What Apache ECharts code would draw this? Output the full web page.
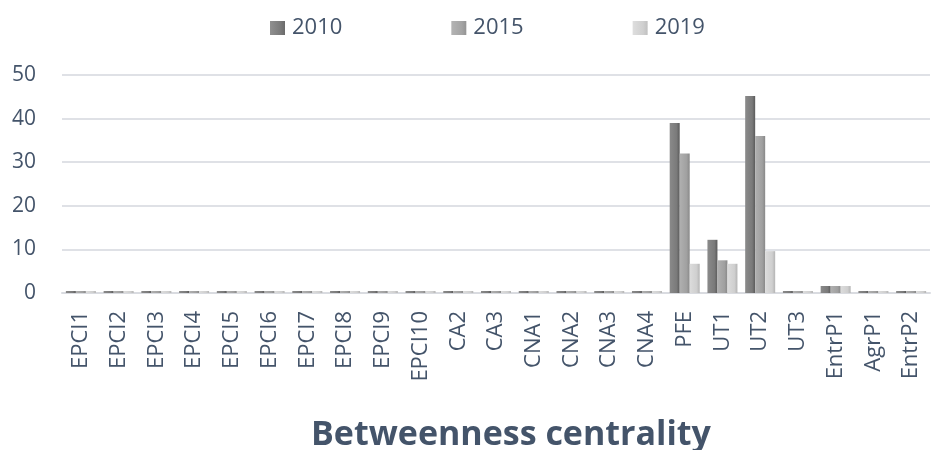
<!DOCTYPE html>
<html><head><meta charset="utf-8">
<script src="https://cdn.jsdelivr.net/npm/echarts@6/dist/echarts.min.js"></script>
<style>html,body{margin:0;padding:0;background:#fff}#c{width:933px;height:450px}</style>
</head><body><div id="c"></div>
<script>
const categories = ["EPCI1","EPCI2","EPCI3","EPCI4","EPCI5","EPCI6","EPCI7","EPCI8","EPCI9","EPCI10","CA2","CA3","CNA1","CNA2","CNA3","CNA4","PFE","UT1","UT2","UT3","EntrP1","AgrP1","EntrP2"];
const s2010 = [0,0,0,0,0,0,0,0,0,0,0,0,0,0,0,0,39,12.2,45.2,0,1.6,0,0];
const s2015 = [0,0,0,0,0,0,0,0,0,0,0,0,0,0,0,0,32,7.5,36,0,1.6,0,0];
const s2019 = [0,0,0,0,0,0,0,0,0,0,0,0,0,0,0,0,6.7,6.7,9.6,0,1.6,0,0];
const yTicks = [0,10,20,30,40,50];

function grad(a,b,c){return new echarts.graphic.LinearGradient(0,0,1,0,[{offset:0,color:a},{offset:0.7,color:b},{offset:1,color:c}]);}
const font = "'Open Sans', 'Noto Sans', sans-serif";
const txt = '#44546a';
const chart = echarts.init(document.getElementById('c'));
const mk = (name,data,g) => ({name,type:'bar',data,barWidth:10,barGap:'0%',barMinHeight:2,
  itemStyle:{color:g},emphasis:{disabled:true}});
chart.setOption({
  animation:false,
  textStyle:{fontFamily:font},
  title:{text:'Betweenness centrality',left:306,top:413,textStyle:{fontFamily:font,fontSize:34,fontWeight:'bold',color:txt}},
  legend:{top:12,left:265,itemGap:109,itemWidth:15,itemHeight:14,icon:'rect',
    textStyle:{fontFamily:font,fontSize:22,color:txt,padding:[0,0,0,2]},
    data:[{name:'2010',itemStyle:{color:grad('#909090','#7a7a7a','#6a6a6a')}},{name:'2015',itemStyle:{color:grad('#b4b4b4','#a4a4a4','#949494')}},{name:'2019',itemStyle:{color:grad('#dedede','#cfcfcf','#c0c0c0')}}]},
  grid:{left:62,right:3,top:75,bottom:157},
  xAxis:{type:'category',data:categories,
    axisLine:{lineStyle:{color:'#d9dbe0',width:2}},axisTick:{show:false},
    axisLabel:{rotate:90,fontSize:22,color:txt,margin:18,fontFamily:font,interval:0}},
  yAxis:{type:'value',min:0,max:50,interval:10,
    axisLine:{show:false},axisTick:{show:false},
    splitLine:{lineStyle:{color:'#dfe1e6',width:2}},
    axisLabel:{fontSize:21,color:txt,margin:26,fontFamily:font,
      formatter:v=>yTicks.includes(v)?String(v):''}},
  series:[
    mk('2010',s2010,grad('#8a8a8a','#7a7a7a','#5a5a5a')),
    mk('2015',s2015,grad('#b0b0b0','#a0a0a0','#888888')),
    mk('2019',s2019,grad('#dcdcdc','#cfcfcf','#b4b4b4'))
  ]
});
</script></body></html>
